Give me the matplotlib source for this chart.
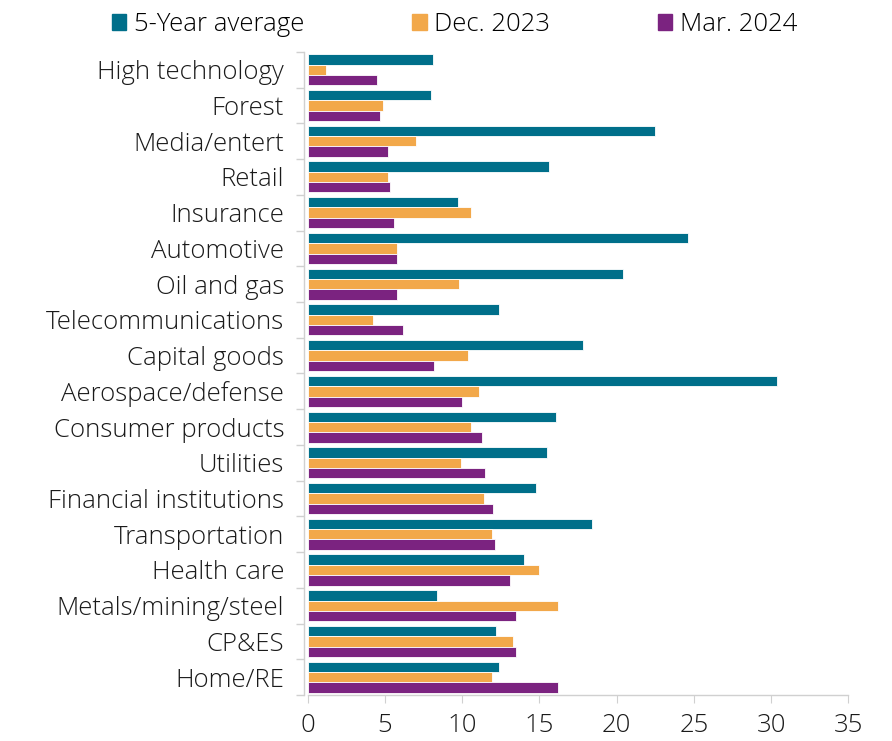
import numpy as np
import matplotlib.pyplot as plt
from matplotlib.patches import Patch

plt.rcParams["font.family"] = ["Open Sans", "DejaVu Sans"]
plt.rcParams["font.weight"] = "light"

sectors = [
    "High technology", "Forest", "Media/entert", "Retail", "Insurance",
    "Automotive", "Oil and gas", "Telecommunications", "Capital goods",
    "Aerospace/defense", "Consumer products", "Utilities",
    "Financial institutions", "Transportation", "Health care",
    "Metals/mining/steel", "CP&ES", "Home/RE",
]
avg_5yr = [8.1, 8.0, 22.5, 15.6, 9.7, 24.6, 20.4, 12.4, 17.8, 30.4,
           16.1, 15.5, 14.8, 18.4, 14.0, 8.4, 12.2, 12.4]
dec_2023 = [1.2, 4.9, 7.0, 5.2, 10.6, 5.8, 9.8, 4.2, 10.4, 11.1,
            10.6, 9.9, 11.4, 11.9, 15.0, 16.2, 13.3, 11.9]
mar_2024 = [4.5, 4.7, 5.2, 5.3, 5.6, 5.8, 5.8, 6.2, 8.2, 10.0,
            11.3, 11.5, 12.0, 12.1, 13.1, 13.5, 13.5, 16.2]
series_names = ["5-Year average", "Dec. 2023", "Mar. 2024"]
colors = ["#006F8A", "#F2A84A", "#7B2380"]

fig = plt.figure(figsize=(8.92, 7.41), dpi=100)
ax = fig.add_axes([0.345, 0.062, 0.606, 0.868])

y = np.arange(len(sectors))
h = 0.29
for i, (vals, c) in enumerate(zip([avg_5yr, dec_2023, mar_2024], colors)):
    ax.barh(y + (i - 1) * h, vals, height=h, color=c,
            edgecolor="white", linewidth=0.6)

ax.set_ylim(len(sectors) - 0.5, -0.5)
ax.set_xlim(0, 35)
ax.set_xticks(range(0, 36, 5))
ax.set_yticks(y)
ax.set_yticklabels(sectors)
ax.set_yticks(np.arange(-0.5, len(sectors), 1), minor=True)
ax.tick_params(axis="y", which="major", length=0, labelsize=18.5, pad=14,
               labelcolor="#1a1a1a")
ax.tick_params(axis="y", which="minor", length=6, color="#d0d0d0", width=1)
ax.tick_params(axis="x", length=6, color="#d0d0d0", labelsize=18.5, pad=7,
               labelcolor="#1a1a1a")

for s in ["top", "right"]:
    ax.spines[s].set_visible(False)
for s in ["left", "bottom"]:
    ax.spines[s].set_color("#d0d0d0")
    ax.spines[s].set_linewidth(1)
ax.spines["left"].set_position(("outward", 3))

handles = [Patch(color=c, label=n) for c, n in zip(colors, series_names)]
fig.legend(handles=handles, loc="upper center", bbox_to_anchor=(0.51, 1.015),
           ncol=3, frameon=False, fontsize=18.5, handlelength=0.55,
           handleheight=0.55, handletextpad=0.3, columnspacing=4.2)

fig.savefig("out.png", dpi=100)
